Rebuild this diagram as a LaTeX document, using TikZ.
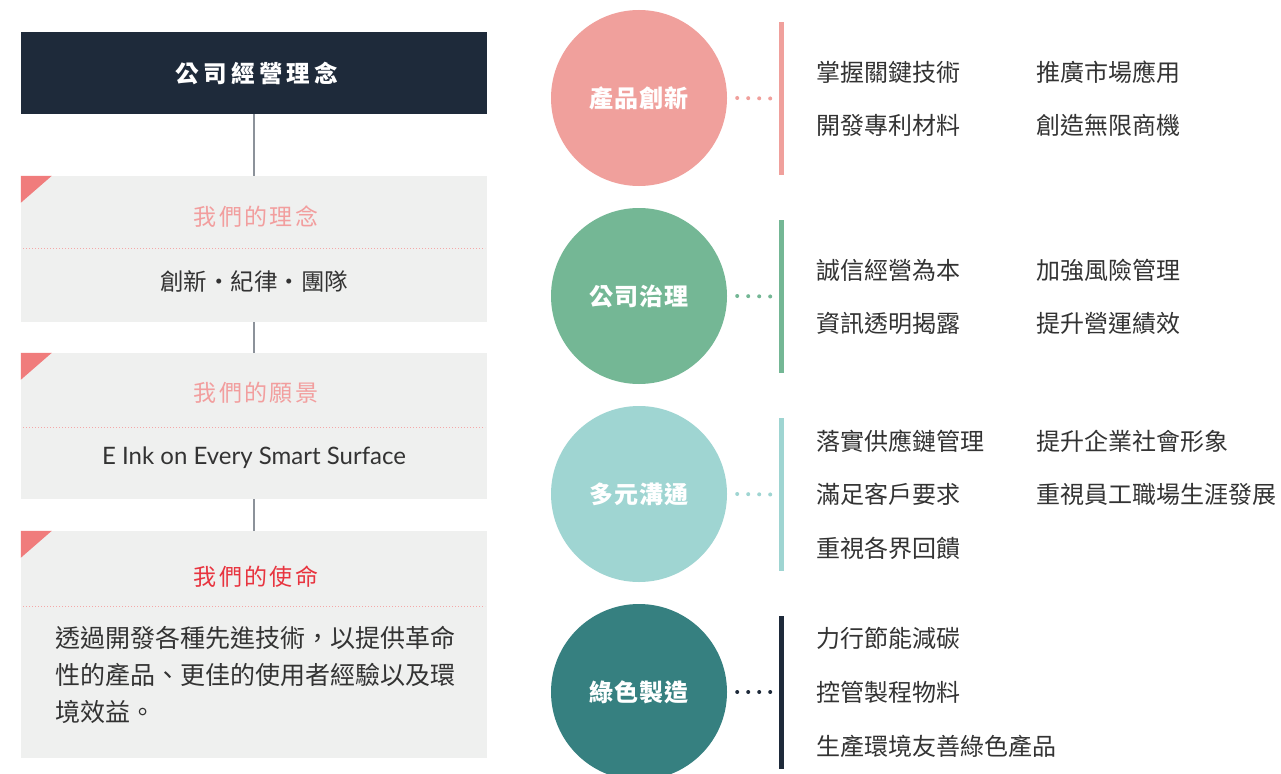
\documentclass[tikz,border=0pt]{standalone}
\usepackage{fontspec}
\setmainfont{Lato}
\newfontfamily\cjk{Noto Sans CJK TC}
\newfontfamily\cjkh{Noto Sans CJK TC}[LetterSpace=18]
\newfontfamily\cjkt{Noto Sans CJK TC}[LetterSpace=10]
\newfontfamily\cjkc{Noto Sans CJK TC}[LetterSpace=4]
\definecolor{navy}{HTML}{1E2A3A}
\definecolor{boxgray}{HTML}{EFF0EF}
\definecolor{tri}{HTML}{F07C7C}
\definecolor{titlepink}{HTML}{F29E9E}
\definecolor{titlered}{HTML}{E8343F}
\definecolor{dotpink}{HTML}{F4A8A8}
\definecolor{conngray}{HTML}{8C929A}
\definecolor{cpink}{HTML}{F0A09C}
\definecolor{cgreen}{HTML}{74B795}
\definecolor{cteal}{HTML}{9FD5D2}
\definecolor{cdark}{HTML}{368080}
\definecolor{txt}{HTML}{333333}
\tikzset{
  panel/.style={fill=boxgray, draw=none, minimum width=466pt, inner sep=0pt},
  conn/.style={draw=conngray, line width=1.5pt},
  corner/.style={fill=tri},
  sep/.style={draw=dotpink, line width=1pt, dash pattern=on 1pt off 2pt},
  ptitle/.style={font=\cjkt\fontsize{23}{28}\selectfont, text=titlepink},
  pbody/.style={font=\cjk\fontsize{23.5}{28}\selectfont, text=txt},
  circ/.style={circle, minimum size=176pt, inner sep=0pt, text=white, font=\cjkc\bfseries\fontsize{24}{28}\selectfont},
  bar/.style={minimum width=5pt, minimum height=153pt, inner sep=0pt},
  dots/.style={line width=4pt, line cap=round, dash pattern=on 0.01pt off 10.99pt},
  item/.style={anchor=west, font=\cjk\fontsize{24}{28}\selectfont, text=txt, inner sep=0pt}
}
\begin{document}
\begin{tikzpicture}[x=1pt, y=-1pt]
\useasboundingbox (0,0) rectangle (1281,773);
\clip (0,0) rectangle (1281,773);
\fill[white] (0,0) rectangle (1281,773);

% left column
\node[fill=navy, minimum width=466pt, minimum height=82pt, inner sep=0pt] (top) at (254,73) {};
\node[text=white, font=\cjkh\bfseries\fontsize{23.5}{28}\selectfont] (toptext) at (257,73) {公司經營理念};

\node[panel, minimum height=146pt] (b1) at (254,249) {};
\node[panel, minimum height=146pt] (b2) at (254,426) {};
\node[panel, minimum height=227pt] (b3) at (254,644.5) {};

\draw[conn] (top.south) -- (b1.north);
\draw[conn] (b1.south) -- (b2.north);
\draw[conn] (b2.south) -- (b3.north);

\fill[corner] (b1.north west) -- ++(31,0) -- ++(-31,27) -- cycle;
\fill[corner] (b2.north west) -- ++(31,0) -- ++(-31,27) -- cycle;
\fill[corner] (b3.north west) -- ++(31,0) -- ++(-31,27) -- cycle;

\node[ptitle] (t1) at (256,217) {我們的理念};
\draw[sep] (23,248) -- (485,248);
\node[pbody] (p1) at (254,281) {創新・紀律・團隊};

\node[ptitle] (t2) at (256,393) {我們的願景};
\draw[sep] (23,427) -- (485,427);
\node[font=\fontsize{24}{28}\selectfont, text=txt] (p2) at (254,458) {E Ink on Every Smart Surface};

\node[ptitle, text=titlered] (t3) at (256,577) {我們的使命};
\draw[sep] (23,606) -- (485,606);
\node[anchor=north west, align=left, inner sep=0pt, font=\cjk\fontsize{25}{37}\selectfont, text=txt] (p3) at (55,626)
  {透過開發各種先進技術，以提供革命\\性的產品、更佳的使用者經驗以及環\\境效益。};

% right column
\node[circ, fill=cpink] (c1) at (639,98) {產品創新};
\node[circ, fill=cgreen] (c2) at (639,296) {公司治理};
\node[circ, fill=cteal] (c3) at (639,494) {多元溝通};
\node[circ, fill=cdark] (c4) at (639,692) {綠色製造};

\node[bar, fill=cpink] (r1) at (781,98.5) {};
\node[bar, fill=cgreen] (r2) at (781,296.5) {};
\node[bar, fill=cteal] (r3) at (781,494.5) {};
\node[bar, fill=navy] (r4) at (781,692) {};

\draw[dots, draw=cpink] ([xshift=10pt]c1.east) -- ([xshift=-6.5pt]r1.west);
\draw[dots, draw=cgreen] ([xshift=10pt]c2.east) -- ([xshift=-6.5pt]r2.west);
\draw[dots, draw=cteal] ([xshift=10pt]c3.east) -- ([xshift=-6.5pt]r3.west);
\draw[dots, draw=navy] ([xshift=10pt]c4.east) -- ([xshift=-6.5pt]r4.west);

\node[item] (a1) at (816,72) {掌握關鍵技術};
\node[item] (a2) at (1036,72) {推廣市場應用};
\node[item] (a3) at (816,125) {開發專利材料};
\node[item] (a4) at (1036,125) {創造無限商機};

\node[item] (g1) at (816,270) {誠信經營為本};
\node[item] (g2) at (1036,270) {加強風險管理};
\node[item] (g3) at (816,323) {資訊透明揭露};
\node[item] (g4) at (1036,323) {提升營運績效};

\node[item] (d1) at (816,441) {落實供應鏈管理};
\node[item] (d2) at (1036,441) {提升企業社會形象};
\node[item] (d3) at (816,494) {滿足客戶要求};
\node[item] (d4) at (1036,494) {重視員工職場生涯發展};
\node[item] (d5) at (816,548) {重視各界回饋};

\node[item] (e1) at (816,638) {力行節能減碳};
\node[item] (e2) at (816,692) {控管製程物料};
\node[item] (e3) at (816,746) {生產環境友善綠色產品};
\end{tikzpicture}
\end{document}
